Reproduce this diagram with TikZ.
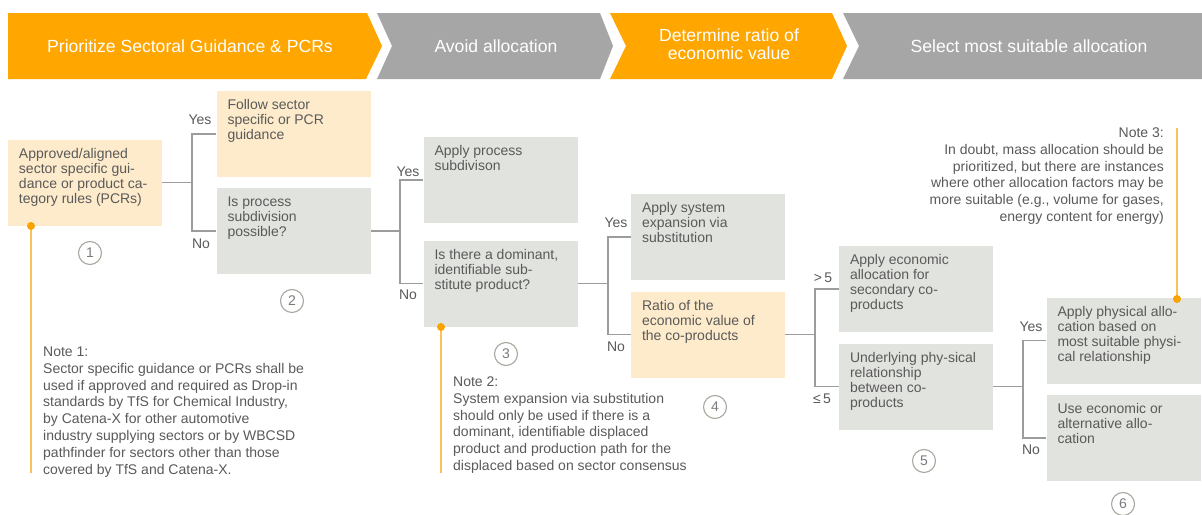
\documentclass[tikz,border=0pt]{standalone}
\usepackage{fontspec}
\setmainfont{Liberation Sans}
\definecolor{hdrorange}{HTML}{FFA600}
\definecolor{hdrgray}{HTML}{A6A6A6}
\definecolor{boxorange}{HTML}{FEEBCB}
\definecolor{boxgray}{HTML}{E1E3DE}
\definecolor{txtgray}{HTML}{5A5A5A}
\definecolor{linegray}{HTML}{9C9C9C}
\definecolor{noteline}{HTML}{FBC25A}
\definecolor{notedot}{HTML}{F7A300}
\definecolor{circgray}{HTML}{A8A89F}
\newcommand{\bt}[1]{\parbox[c][70pt][t]{132pt}{\raggedright\strut #1}}
\begin{document}
\begin{tikzpicture}[x=1pt,y=-1pt,
 bodyfont/.style={font=\fontsize{14}{15}\selectfont},
 box/.style={rectangle, inner sep=0pt, minimum width=154pt, minimum height=86pt, text=txtgray, bodyfont},
 graybox/.style={box, fill=boxgray},
 orangebox/.style={box, fill=boxorange},
 conn/.style={draw=linegray, line width=1.2pt},
 lbl/.style={text=txtgray, font=\fontsize{14}{15}\selectfont, inner sep=0pt},
 numc/.style={circle, draw=circgray, line width=1.1pt, minimum size=23pt, inner sep=0pt, text=txtgray!80, font=\fontsize{14}{15}\selectfont},
 note/.style={text=txtgray, font=\fontsize{14}{16.8}\selectfont, inner sep=0pt},
 hdr/.style={text=white, font=\fontsize{17.6}{18}\selectfont, align=center, inner sep=0pt},
 notelink/.style={draw=noteline, line width=1.3pt},
 dot/.style={circle, fill=notedot, minimum size=8pt, inner sep=0pt}
]
\useasboundingbox[fill=white] (0,0) rectangle (1202,514);

% header chevrons
\fill[hdrorange] (8,13) -- (367,13) -- (382,46) -- (366,79) -- (8,79) -- cycle;
\fill[hdrgray] (377,13) -- (600,13) -- (613,46) -- (600,79) -- (377,79) -- (392,46) -- cycle;
\fill[hdrorange] (610,13) -- (832,13) -- (847,46) -- (832,79) -- (610,79) -- (626,46) -- cycle;
\fill[hdrgray] (843,13) -- (1202,13) -- (1202,79) -- (843,79) -- (859,46) -- cycle;
\node[hdr] (h1) at (190,46) {Prioritize Sectoral Guidance \& PCRs};
\node[hdr] (h2) at (496,46) {Avoid allocation};
\node[hdr] (h3) at (729,44) {Determine ratio of\\economic value};
\node[hdr] (h4) at (1029,46) {Select most suitable allocation};

% boxes
\node[orangebox] (b1) at (85,182.5) {\bt{Approved/aligned\\sector specific gui-\\dance or product ca-\\tegory rules (PCRs)}};
\node[orangebox] (b2) at (293.5,134) {\bt{Follow sector\\specific or PCR\\guidance}};
\node[graybox] (b3) at (293.5,231) {\bt{Is process\\subdivision\\possible?}};
\node[graybox] (b4) at (500.5,180) {\bt{Apply process\\subdivison}};
\node[graybox] (b5) at (500.5,283.5) {\bt{Is there a dominant,\\identifiable sub-\\stitute product?}};
\node[graybox] (b6) at (708,237) {\bt{Apply system\\expansion via\\substitution}};
\node[orangebox] (b7) at (708,334.5) {\bt{Ratio of the\\economic value of\\the co-products}};
\node[graybox] (b8) at (916,289) {\bt{Apply economic\\allocation for\\secondary co-\\products}};
\node[graybox] (b9) at (916,386.5) {\bt{Underlying phy-sical\\relationship\\between co-\\products}};
\node[graybox] (b10) at (1123.5,340.5) {\bt{Apply physical allo-\\cation based on\\most suitable physi-\\cal relationship}};
\node[graybox] (b11) at (1123.5,438) {\bt{Use economic or\\alternative allo-\\cation}};

% connectors
\coordinate (j1) at (192,182.5);
\draw[conn] (b1.east) -- (j1) |- (b2.west);
\draw[conn] (j1) |- (b3.west);
\coordinate (j2) at (400,231);
\draw[conn] (b3.east) -- (j2) |- (b4.west);
\draw[conn] (j2) |- (b5.west);
\coordinate (j3) at (608,283.5);
\draw[conn] (b5.east) -- (j3) |- (b6.west);
\draw[conn] (j3) |- (b7.west);
\coordinate (j4) at (815,334.5);
\draw[conn] (b7.east) -- (j4) |- (b8.west);
\draw[conn] (j4) |- (b9.west);
\coordinate (j5) at (1023,386.5);
\draw[conn] (b9.east) -- (j5) |- (b10.west);
\draw[conn] (j5) |- (b11.west);

% branch labels
\node[lbl] (y1) at (200,120) {Yes};
\node[lbl] (n1) at (201,244) {No};
\node[lbl] (y2) at (408,172) {Yes};
\node[lbl] (n2) at (408,295) {No};
\node[lbl] (y3) at (616,223) {Yes};
\node[lbl] (n3) at (616,347) {No};
\node[lbl] (g4) at (823,278) {>\,5};
\node[lbl] (l4) at (822,399) {≤\,5};
\node[lbl] (y5) at (1031,327) {Yes};
\node[lbl] (n5) at (1031,450) {No};

% step numbers
\node[numc] (c1) at (90,253) {1};
\node[numc] (c2) at (292,301) {2};
\node[numc] (c3) at (506,354) {3};
\node[numc] (c4) at (715,407) {4};
\node[numc] (c5) at (924,461) {5};
\node[numc] (c6) at (1123,504) {6};

% note links
\coordinate (d1) at (31,226); \coordinate (e1) at (31,473);
\draw[notelink] (d1) -- (e1);
\node[dot] (dot1) at (d1) {};
\coordinate (d2) at (441,327); \coordinate (e2) at (441,473);
\draw[notelink] (d2) -- (e2);
\node[dot] (dot2) at (d2) {};
\coordinate (d3) at (1177,299); \coordinate (e3) at (1177,128);
\draw[notelink] (d3) -- (e3);
\node[dot] (dot3) at (d3) {};

% notes (base anchor = last line baseline)
\node[note, anchor=base west, align=left] (note1) at (43,474.1) {Note 1:\\Sector specific guidance or PCRs shall be\\used if approved and required as Drop-in\\standards by TfS for Chemical Industry,\\by Catena-X for other automotive\\industry supplying sectors or by WBCSD\\pathfinder for sectors other than those\\covered by TfS and Catena-X.};
\node[note, anchor=base west, align=left] (note2) at (453,470.5) {Note 2:\\System expansion via substitution\\should only be used if there is a\\dominant, identifiable displaced\\product and production path for the\\displaced based on sector consensus};
\node[note, anchor=base east, align=right] (note3) at (1164,221.5) {Note 3:\\In doubt, mass allocation should be\\prioritized, but there are instances\\where other allocation factors may be\\more suitable (e.g., volume for gases,\\energy content for energy)};
\end{tikzpicture}
\end{document}
